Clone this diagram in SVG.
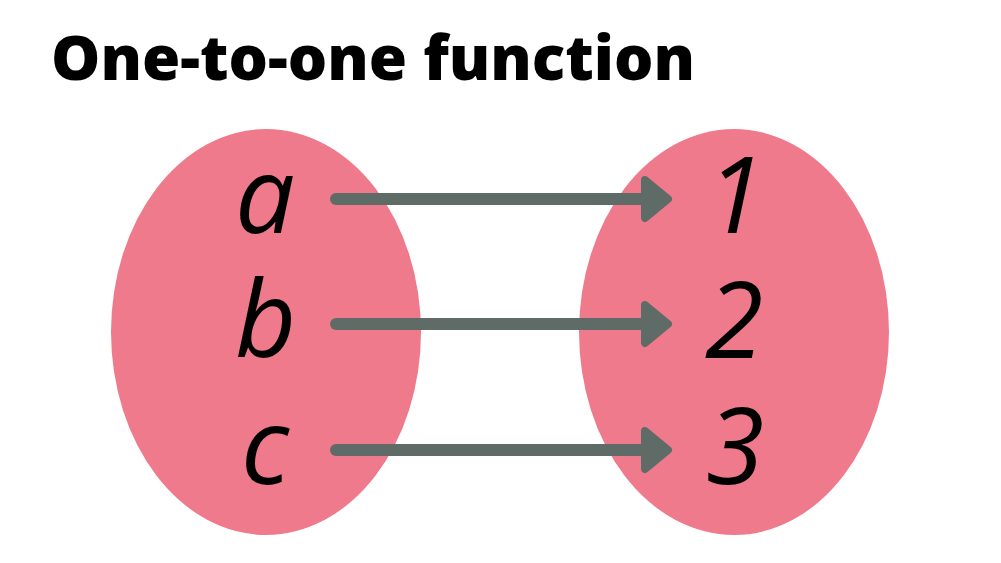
<svg xmlns="http://www.w3.org/2000/svg" width="1001" height="563" viewBox="0 0 1001 563">
<defs>
<style>
.set{fill:#ef7a8b}
.lbl{font-family:"Open Sans","Noto Sans",sans-serif;font-style:italic;font-size:106px;fill:#000}
.title{font-family:"Open Sans","Noto Sans",sans-serif;font-weight:800;font-size:62px;fill:#000}
.conn line{stroke:#5f6b66;stroke-width:12;stroke-linecap:round}
.conn path{fill:#5f6b66;stroke:#5f6b66;stroke-width:8;stroke-linejoin:round}
</style>
</defs>
<rect width="1001" height="563" fill="#fff"/>
<text class="title" x="51" y="80">One-to-one function</text>
<g id="domain"><ellipse class="set" cx="266" cy="332" rx="155" ry="203"/></g>
<g id="codomain"><ellipse class="set" cx="734" cy="332" rx="155" ry="203"/></g>
<g id="node-a"><text class="lbl" x="235" y="233">a</text></g>
<g id="node-b"><text class="lbl" x="235" y="357">b</text></g>
<g id="node-c"><text class="lbl" x="241" y="484">c</text></g>
<g id="node-1"><text class="lbl" x="706" y="233">1</text></g>
<g id="node-2"><text class="lbl" x="705" y="358">2</text></g>
<g id="node-3"><text class="lbl" x="706" y="484">3</text></g>
<g class="conn" id="connectors">
<line x1="336" y1="199" x2="645" y2="199"/><path d="M645 180 L668 199 L645 218 Z"/>
<line x1="336" y1="324" x2="645" y2="324"/><path d="M645 305 L668 324 L645 343 Z"/>
<line x1="336" y1="450" x2="645" y2="450"/><path d="M645 431 L668 450 L645 469 Z"/>
</g>
</svg>
